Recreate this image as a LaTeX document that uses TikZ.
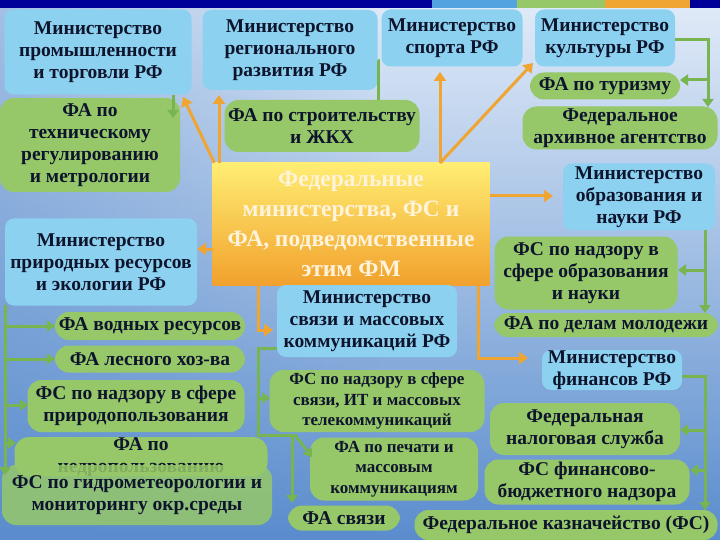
\documentclass[tikz,border=0pt]{standalone}
\usepackage{fontspec}
\setmainfont{Liberation Serif}
\usetikzlibrary{arrows.meta,calc,fadings}
\definecolor{bluebox}{RGB}{140,210,240}
\definecolor{greenbox}{RGB}{150,200,105}
\definecolor{orline}{RGB}{240,165,50}
\definecolor{grline}{RGB}{120,180,80}
\definecolor{txt}{RGB}{15,20,45}
\definecolor{bgtop}{RGB}{225,235,248}
\definecolor{bgbot}{RGB}{90,140,205}
\tikzset{
 base/.style={rounded corners=9pt,align=center,text=txt,font=\bfseries\fontsize{19.5}{22}\selectfont,inner sep=0pt},
 bbox/.style={base,fill=bluebox},
 gbox/.style={base,fill=greenbox,rounded corners=14pt},
 sm/.style={font=\bfseries\fontsize{17}{20.5}\selectfont},
 oarr/.style={draw=orline,line width=3pt,-{Triangle[length=9pt,width=12pt]}},
 garr/.style={draw=grline,line width=3pt,-{Triangle[length=8pt,width=11pt]}},
 gline/.style={draw=grline,line width=3pt},
}
\newcommand{\bx}[6]{\node[#1,minimum width=#4pt,minimum height=#5pt] (#2) at (#3) {#6};}
\begin{document}
\begin{tikzpicture}[x=1pt,y=-1pt]
\useasboundingbox (0,0) rectangle (720,540);
\shade[top color=bgtop,bottom color=bgbot] (0,0) rectangle (720,540);
\fill[bgbot,opacity=0.45,path fading=east] (0,0) rectangle (380,540);
\fill[blue!60!black] (0,0) rectangle (720,8);
\fill[cyan!70!blue!70] (432,0) rectangle (517,8);
\fill[greenbox] (517,0) rectangle (605,8);
\fill[orline] (605,0) rectangle (690,8);
% center
\node[rounded corners=0pt,minimum width=277pt,minimum height=122pt,inner sep=0pt,top color=orange!25!yellow!55,bottom color=orline!90!orange,text={rgb,255:red,255;green,243;blue,220},align=center,font=\bfseries\fontsize{23.5}{30}\selectfont] (c) at (351,224) {Федеральные\\министерства, ФС и\\ФА, подведомственные\\этим ФМ};
% blue
\bx{bbox}{mpt}{98,52}{187}{85}{Министерство\\промышленности\\и торговли РФ}
\bx{bbox}{mreg}{290,50}{175}{80}{Министерство\\регионального\\развития РФ}
\bx{bbox}{msp}{452,38}{141}{57}{Министерство\\спорта РФ}
\bx{bbox}{mkul}{605,38}{140}{57}{Министерство\\культуры РФ}
\bx{bbox}{mobr}{639,197}{152}{67}{Министерство\\образования и\\науки РФ}
\bx{bbox}{mpr}{101,262}{192}{87}{Министерство\\природных ресурсов\\и экологии РФ}
\bx{bbox}{mks}{367,321}{180}{72}{Министерство\\связи и массовых\\коммуникаций РФ}
\bx{bbox}{mfin}{612,370}{140}{40}{Министерство\\финансов РФ}
% green
\bx{gbox}{tech}{90,145}{180}{94}{ФА по\\техническому\\регулированию\\и метрологии}
\bx{gbox}{str}{322,126}{195}{52}{ФА по строительству\\и ЖКХ}
\bx{gbox}{tur}{605,86}{150}{27}{ФА по туризму}
\bx{gbox}{arch}{620,128}{195}{43}{Федеральное\\архивное агентство}
\bx{gbox}{fsobr}{586,273}{183}{73}{ФС по надзору в\\сфере образования\\и науки}
\bx{gbox}{mol}{606,325}{224}{24}{ФА по делам молодежи}
\bx{gbox}{vod}{150,326}{190}{28}{ФА водных ресурсов}
\bx{gbox}{les}{150,359}{190}{27}{ФА лесного хоз-ва}
\bx{gbox}{prir}{136,406}{217}{52}{ФС по надзору в сфере\\природопользования}
\node[gbox,minimum width=253pt,minimum height=28pt,anchor=north] (ned) at (141,437) {ФА по\\недропользованию};
\node[gbox,minimum width=270pt,minimum height=60pt,fill opacity=0.85,text opacity=1] (hyd) at (137,495) {ФС по гидрометеорологии и\\мониторингу окр.среды};
\bx{gbox,sm}{fssv}{377,401}{215}{62}{ФС по надзору в сфере\\связи, ИТ и массовых\\телекоммуникаций}
\bx{gbox,sm}{pech}{394,469}{168}{63}{ФА по печати и\\массовым\\коммуникациям}
\bx{gbox}{sv}{344,518}{112}{25}{ФА связи}
\bx{gbox}{nal}{585,429}{190}{52}{Федеральная\\налоговая служба}
\bx{gbox}{fbn}{587,482}{205}{45}{ФС финансово-\\бюджетного надзора}
\bx{gbox}{kaz}{566,525}{303}{30}{Федеральное казначейство (ФС)}
% orange arrows
\draw[oarr] ([xshift=2pt]c.north west) -- (183,97);
\draw[oarr] (219,163) -- (219,95);
\draw[oarr] (440,163) -- (440,72);
\draw[oarr] (440,163) -- (533,63);
\draw[oarr] (c.east |- 0,196) -- (553,196);
\draw[oarr] (213,249) -- (mpr.east |- 0,249);
\draw[oarr] (258,285) |- (273,330);
\draw[oarr] (478,285) |- (528,358);
% green arrows
\draw[garr] (173,95) -- (173,118);
\draw[gline] (mreg.east |- 0,61) -| (378,100);
\draw[gline] (mkul.east |- 0,40) -| (708,80);
\draw[garr] (708,80) -- (708,107);
\draw[garr] (708,80) -- (680,80);
\draw[gline] (705,230) -- (705,290);
\draw[garr] (705,290) -- (705,313);
\draw[garr] (705,270) -- (678,270);
\draw[gline] (5,305) -- (5,455);
\draw[garr] (5,455) -- (5,475);
\draw[garr] (5,326) -- (55,326);
\draw[garr] (5,359) -- (55,359);
\draw[garr] (5,405) -- (28,405);
\draw[garr] (5,443) -- (16,443);
\draw[gline] (mks.west |- 0,348) -- (258,348) -- (258,435) -- (295,435);
\draw[garr] (258,398) -- (270,398);
\draw[garr] (295,435) -- (312,457);
\draw[garr] (292,435) -- (292,503);
\draw[gline] (mfin.east |- 0,376) -| (705,490);
\draw[garr] (705,490) -- (705,510);
\draw[garr] (705,430) -- (680,430);
\draw[garr] (705,470) -- (690,470);
\end{tikzpicture}
\end{document}
